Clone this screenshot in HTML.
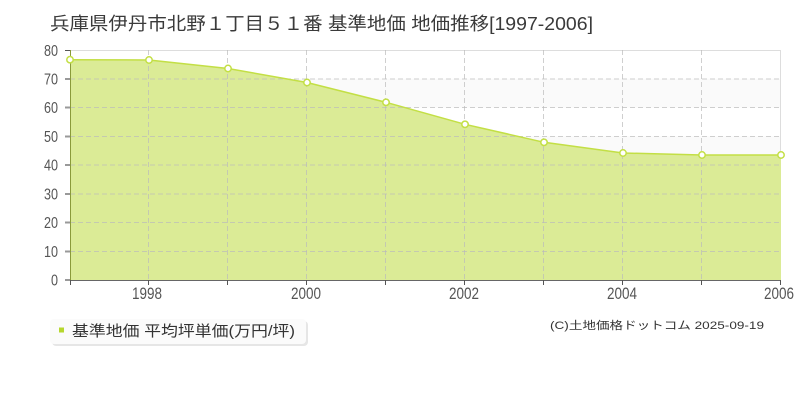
<!DOCTYPE html>
<html><head><meta charset="utf-8"><style>
html,body{margin:0;padding:0;background:#fff;}
svg{display:block;}
text{font-family:"Liberation Sans","Noto Sans CJK JP",sans-serif;}
</style></head><body>
<svg width="800" height="400" viewBox="0 0 800 400" xmlns="http://www.w3.org/2000/svg">
<rect width="800" height="400" fill="#fff"/>
<text x="50" y="30" font-size="18" fill="#3a3a3a" textLength="543" lengthAdjust="spacingAndGlyphs">兵庫県伊丹市北野１丁目５１番 基準地価 地価推移[1997-2006]</text>
<!-- bands -->
<rect x="70" y="78.75" width="711" height="28.75" fill="#fafafa"/>
<rect x="70" y="136.25" width="711" height="28.75" fill="#fafafa"/>
<rect x="70" y="193.75" width="711" height="28.75" fill="#fafafa"/>
<rect x="70" y="251.25" width="711" height="28.75" fill="#fafafa"/>
<!-- border -->
<line x1="70" y1="50.5" x2="781" y2="50.5" stroke="#ddd" stroke-width="1"/>
<line x1="780.5" y1="50" x2="780.5" y2="280" stroke="#ddd" stroke-width="1"/>
<!-- fill -->
<polygon points="70,59.7 149,60 228,68.5 307,82.5 386,102.3 465,124.3 544,142.3 623,153 702,155 781,155 781,280 70,280" fill="#dbeb96"/>
<!-- grid -->
<g stroke="#bbb" stroke-opacity="0.7" stroke-width="1" stroke-dasharray="5,3">
<line x1="70" y1="79" x2="781" y2="79"/>
<line x1="70" y1="107.5" x2="781" y2="107.5"/>
<line x1="70" y1="136.5" x2="781" y2="136.5"/>
<line x1="70" y1="165" x2="781" y2="165"/>
<line x1="70" y1="194" x2="781" y2="194"/>
<line x1="70" y1="222.5" x2="781" y2="222.5"/>
<line x1="70" y1="251.5" x2="781" y2="251.5"/>
<line x1="148.5" y1="50" x2="148.5" y2="280"/>
<line x1="227.5" y1="50" x2="227.5" y2="280"/>
<line x1="306.5" y1="50" x2="306.5" y2="280"/>
<line x1="385.5" y1="50" x2="385.5" y2="280"/>
<line x1="464.5" y1="50" x2="464.5" y2="280"/>
<line x1="543.5" y1="50" x2="543.5" y2="280"/>
<line x1="622.5" y1="50" x2="622.5" y2="280"/>
<line x1="701.5" y1="50" x2="701.5" y2="280"/>
</g>
<!-- line -->
<polyline points="70,59.7 149,60 228,68.5 307,82.5 386,102.3 465,124.3 544,142.3 623,153 702,155 781,155" fill="none" stroke="#c3df45" stroke-width="1.5"/>
<!-- axes -->
<line x1="70.5" y1="50" x2="70.5" y2="280" stroke="#8a9a3a" stroke-width="1"/>
<line x1="70" y1="280.5" x2="781" y2="280.5" stroke="#666" stroke-width="1"/>
<g stroke="#999" stroke-width="2">
<line x1="65" y1="50.5" x2="70" y2="50.5" stroke="#555" stroke-width="1"/>
<line x1="65" y1="79" x2="70" y2="79"/>
<line x1="65" y1="107.5" x2="70" y2="107.5"/>
<line x1="65" y1="136.5" x2="70" y2="136.5"/>
<line x1="65" y1="165" x2="70" y2="165"/>
<line x1="65" y1="194" x2="70" y2="194"/>
<line x1="65" y1="222.5" x2="70" y2="222.5"/>
<line x1="65" y1="251.5" x2="70" y2="251.5"/>
<line x1="65" y1="280" x2="70" y2="280"/>
</g>
<g stroke="#555" stroke-width="1">
<line x1="70.5" y1="280" x2="70.5" y2="285"/>
<line x1="148.5" y1="280" x2="148.5" y2="285"/>
<line x1="227.5" y1="280" x2="227.5" y2="285"/>
<line x1="306.5" y1="280" x2="306.5" y2="285"/>
<line x1="385.5" y1="280" x2="385.5" y2="285"/>
<line x1="464.5" y1="280" x2="464.5" y2="285"/>
<line x1="543.5" y1="280" x2="543.5" y2="285"/>
<line x1="622.5" y1="280" x2="622.5" y2="285"/>
<line x1="701.5" y1="280" x2="701.5" y2="285"/>
<line x1="780.5" y1="280" x2="780.5" y2="285"/>
</g>
<!-- y labels -->
<g font-size="16" fill="#555" text-anchor="end">
<text x="58" y="56" textLength="14" lengthAdjust="spacingAndGlyphs">80</text>
<text x="58" y="84.5" textLength="14" lengthAdjust="spacingAndGlyphs">70</text>
<text x="58" y="113" textLength="14" lengthAdjust="spacingAndGlyphs">60</text>
<text x="58" y="142" textLength="14" lengthAdjust="spacingAndGlyphs">50</text>
<text x="58" y="170.5" textLength="14" lengthAdjust="spacingAndGlyphs">40</text>
<text x="58" y="199.5" textLength="14" lengthAdjust="spacingAndGlyphs">30</text>
<text x="58" y="228" textLength="14" lengthAdjust="spacingAndGlyphs">20</text>
<text x="58" y="257" textLength="14" lengthAdjust="spacingAndGlyphs">10</text>
<text x="58" y="285.5" textLength="7" lengthAdjust="spacingAndGlyphs">0</text>
</g>
<!-- x labels -->
<g font-size="17" fill="#555" text-anchor="middle">
<text x="147" y="299" textLength="30" lengthAdjust="spacingAndGlyphs">1998</text>
<text x="306" y="299" textLength="30" lengthAdjust="spacingAndGlyphs">2000</text>
<text x="464" y="299" textLength="30" lengthAdjust="spacingAndGlyphs">2002</text>
<text x="622" y="299" textLength="30" lengthAdjust="spacingAndGlyphs">2004</text>
<text x="779" y="299" textLength="30" lengthAdjust="spacingAndGlyphs">2006</text>
</g>
<!-- points -->
<g fill="#fff" stroke="#c3df45" stroke-width="1.5">
<circle cx="70" cy="59.7" r="3.2"/>
<circle cx="149" cy="60" r="3.2"/>
<circle cx="228" cy="68.5" r="3.2"/>
<circle cx="307" cy="82.5" r="3.2"/>
<circle cx="386" cy="102.3" r="3.2"/>
<circle cx="465" cy="124.3" r="3.2"/>
<circle cx="544" cy="142.3" r="3.2"/>
<circle cx="623" cy="153" r="3.2"/>
<circle cx="702" cy="155" r="3.2"/>
<circle cx="781" cy="155" r="3.2"/>
</g>
<!-- legend -->
<rect x="52" y="321" width="256" height="25" rx="4" fill="#e6e6e6"/>
<rect x="50" y="319" width="256" height="25" rx="4" fill="#fbfbfb"/>
<rect x="59" y="327.5" width="5" height="5" fill="#b6d72e"/>
<text x="72" y="336" font-size="15" fill="#333" textLength="223" lengthAdjust="spacingAndGlyphs">基準地価 平均坪単価(万円/坪)</text>
<text x="550" y="329" font-size="11" fill="#333" textLength="214" lengthAdjust="spacingAndGlyphs">(C)土地価格ドットコム 2025-09-19</text>
</svg>
</body></html>
